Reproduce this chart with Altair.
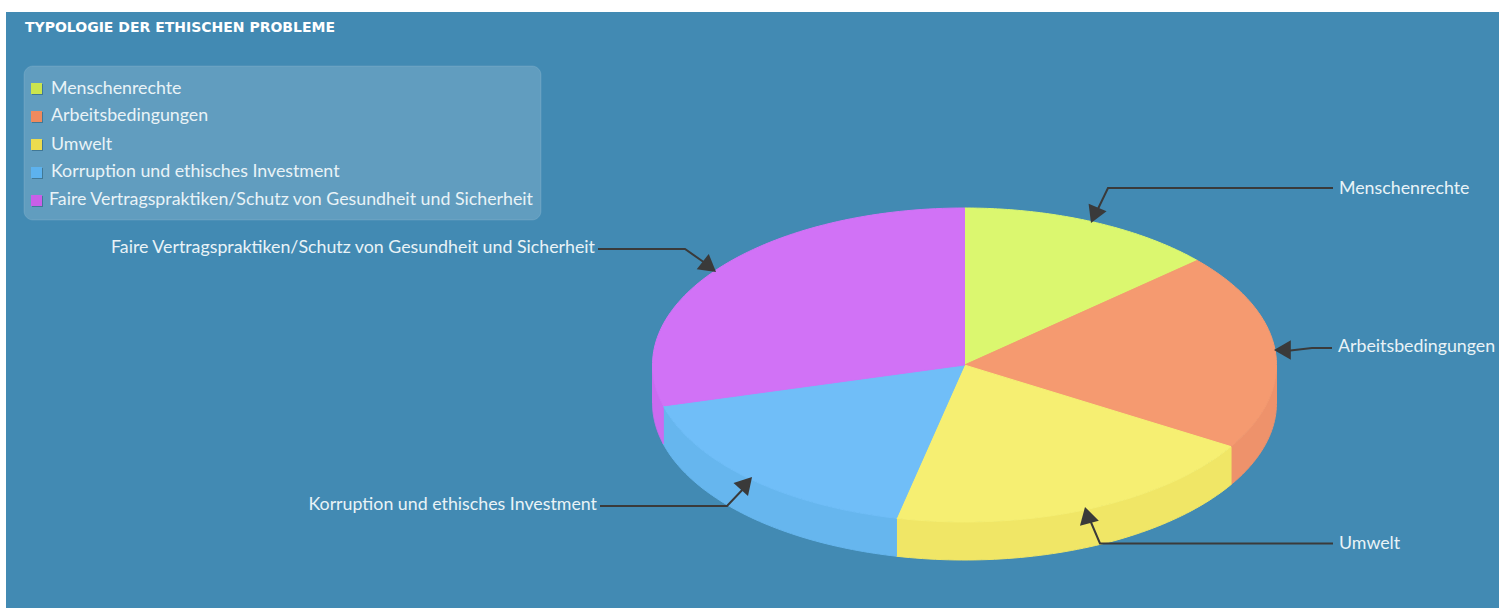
import numpy as np
import pandas as pd
import altair as alt

# Slice shares of the pie, clockwise from twelve o'clock
categories = [
    "Menschenrechte",
    "Arbeitsbedingungen",
    "Umwelt",
    "Korruption und ethisches Investment",
    "Faire Vertragspraktiken/Schutz von Gesundheit und Sicherheit",
]
shares = [13.4, 20.3, 19.8, 17.3, 29.2]
title_text = "TYPOLOGIE DER ETHISCHEN PROBLEME"

# Palette
top_colors = ["#dbf76f", "#f59a70", "#f6ef72", "#70bef8", "#d172f6"]
wall_colors = ["#cfe968", "#ee926b", "#f0e666", "#66b6ee", "#cb6bf0"]
swatch_colors = ["#cbe54e", "#ee8a5e", "#ecdc4e", "#5db2ee", "#c95fe8"]
BLUE = "#428ab3"
INK = "#3a3a3a"
LABEL = "#e9f3f7"
FONT = "Lato"
FONT_SIZE = 17.8

W, H = 1499, 608
CX, CY, RX, RY, DEPTH = 964.5, 365, 312, 157, 38

XS = alt.Scale(domain=[0, W], nice=False, zero=False)
YS = alt.Scale(domain=[H, 0], nice=False, zero=False)


def px(field):
    return alt.X(field, scale=XS, axis=None)


def py(field):
    return alt.Y(field, scale=YS, axis=None)


def rim(angle):
    """Point on the tilted disc for a clockwise angle (radians) from the top."""
    return CX + RX * np.sin(angle), CY - RY * np.cos(angle)


# Turn the shares into elliptical sectors and the visible outer wall
edges = np.cumsum([0] + shares) / sum(shares) * 2 * np.pi
sector_rows, wall_rows = [], []
for name, a0, a1 in zip(categories, edges[:-1], edges[1:]):
    steps = np.linspace(a0, a1, 80)
    pts = [(CX, CY)] + [rim(a) for a in steps] + [(CX, CY)]
    sector_rows += [{"slice": name, "i": i, "x": p[0], "y": p[1]} for i, p in enumerate(pts)]
    lo, hi = max(a0, np.pi / 2), min(a1, 3 * np.pi / 2)
    if lo < hi:
        arc = np.linspace(lo, hi, 60)
        upper = [rim(a) for a in arc]
        lower = [(x, y + DEPTH) for x, y in reversed(upper)]
        outline = upper + lower + upper[:1]
        wall_rows += [{"slice": name, "i": i, "x": p[0], "y": p[1]} for i, p in enumerate(outline)]


def filled_polys(rows, colors):
    # Fill and stroke share one colour so neighbouring pieces leave no seam
    palette = alt.Scale(domain=categories, range=colors)
    return (
        alt.Chart(pd.DataFrame(rows))
        .mark_line(filled=True, strokeWidth=1, interpolate="linear")
        .encode(
            x=px("x:Q"),
            y=py("y:Q"),
            order="i:Q",
            fill=alt.Fill("slice:N", scale=palette, legend=None),
            stroke=alt.Stroke("slice:N", scale=palette, legend=None),
        )
    )


walls = filled_polys(wall_rows, wall_colors)
sectors = filled_polys(sector_rows, top_colors)

# Page panel behind everything
panel = (
    alt.Chart(pd.DataFrame({"x": [6], "x2": [W], "y": [12], "y2": [H]}))
    .mark_rect(color=BLUE)
    .encode(x=px("x:Q"), x2="x2:Q", y=py("y:Q"), y2="y2:Q")
)

# Legend box
legend_box = (
    alt.Chart(pd.DataFrame({"x": [24], "x2": [541], "y": [66], "y2": [220]}))
    .mark_rect(fill="#ffffff", fillOpacity=0.17, stroke="#ffffff", strokeOpacity=0.12, cornerRadius=9)
    .encode(x=px("x:Q"), x2="x2:Q", y=py("y:Q"), y2="y2:Q")
)

legend_df = pd.DataFrame(
    {
        "name": categories,
        "color": swatch_colors,
        "sx": [31, 31, 31, 31, 31],
        "sy": [83, 111, 139, 167, 195],
        "tx": [51, 51, 51, 51, 49],
        "ty": [89, 116, 145, 172, 200],
    }
)
legend_df["sx2"] = legend_df.sx + 11
legend_df["sy2"] = legend_df.sy + 11
legend_df["dx0"] = legend_df.sx + 1
legend_df["dx2"] = legend_df.sx2 + 1
legend_df["dy0"] = legend_df.sy + 1
legend_df["dy2"] = legend_df.sy2 + 1

swatch_shadow = (
    alt.Chart(legend_df)
    .mark_rect(color="#2c5f7c", opacity=0.6)
    .encode(x=px("dx0:Q"), x2="dx2:Q", y=py("dy0:Q"), y2="dy2:Q")
)
swatches = (
    alt.Chart(legend_df)
    .mark_rect()
    .encode(
        x=px("sx:Q"),
        x2="sx2:Q",
        y=py("sy:Q"),
        y2="sy2:Q",
        color=alt.Color("color:N", scale=None),
    )
)
legend_text = (
    alt.Chart(legend_df)
    .mark_text(font=FONT, fontSize=FONT_SIZE, color=LABEL, align="left", baseline="middle")
    .encode(x=px("tx:Q"), y=py("ty:Q"), text="name:N")
)

# Callout labels around the pie
callout_df = pd.DataFrame(
    {
        "name": categories,
        "x": [1339, 1338, 1339, 597, 595],
        "y": [189, 347, 544, 505, 248],
        "align": ["left", "left", "left", "right", "right"],
    }
)
callout_left = (
    alt.Chart(callout_df[callout_df["align"] == "left"])
    .mark_text(font=FONT, fontSize=FONT_SIZE, color=LABEL, align="left", baseline="middle")
    .encode(x=px("x:Q"), y=py("y:Q"), text="name:N")
)
callout_right = (
    alt.Chart(callout_df[callout_df["align"] == "right"])
    .mark_text(font=FONT, fontSize=FONT_SIZE, color=LABEL, align="right", baseline="middle")
    .encode(x=px("x:Q"), y=py("y:Q"), text="name:N")
)

# Leader lines
leader_paths = {
    "Menschenrechte": [(1333, 188), (1108, 188), (1096, 213)],
    "Arbeitsbedingungen": [(1332, 348), (1312, 348), (1286, 351)],
    "Umwelt": [(1333, 543.5), (1100, 543.5), (1090, 520)],
    "Korruption": [(600, 506), (727, 506), (746, 486)],
    "Faire": [(598, 249), (685, 249), (705, 263)],
}
leader_df = pd.DataFrame(
    [
        {"leader": k, "i": i, "x": p[0], "y": p[1]}
        for k, path in leader_paths.items()
        for i, p in enumerate(path)
    ]
)
leaders = (
    alt.Chart(leader_df)
    .mark_line(color=INK, strokeWidth=2)
    .encode(x=px("x:Q"), y=py("y:Q"), detail="leader:N", order="i:Q")
)

heads_df = pd.DataFrame(
    {
        "x": [1094.3, 1282.4, 1087.2, 746.4, 709.4],
        "y": [215.3, 350, 515.1, 483.2, 266.8],
        "angle": [203, 270, 345, 42, 128],
    }
)
heads = (
    alt.Chart(heads_df)
    .mark_point(shape="triangle-up", filled=True, size=380, color=INK, opacity=1)
    .encode(x=px("x:Q"), y=py("y:Q"), angle=alt.Angle("angle:Q", scale=None))
)

title_mark = (
    alt.Chart(pd.DataFrame({"x": [25], "y": [28], "t": [title_text]}))
    .mark_text(font="DejaVu Sans", fontWeight="bold", fontSize=14, color="#ffffff", align="left", baseline="middle")
    .encode(x=px("x:Q"), y=py("y:Q"), text="t:N")
)

chart = (
    alt.layer(
        panel, walls, sectors, legend_box, swatch_shadow, swatches, legend_text,
        leaders, heads, callout_left, callout_right, title_mark,
    )
    .resolve_scale(fill="independent", stroke="independent")
    .properties(width=W, height=H, padding=0, autosize="none", background="#ffffff")
    .configure_view(stroke=None)
)

chart.save("out.html", embed_options={"renderer": "svg", "actions": False})
